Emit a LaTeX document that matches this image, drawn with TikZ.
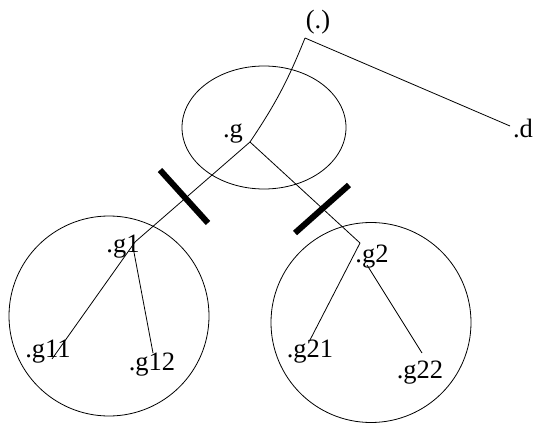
\documentclass[tikz,border=0pt]{standalone}
\usepackage{fontspec}
\setmainfont{Liberation Serif}
\begin{document}
\begin{tikzpicture}[x=1pt,y=-1pt,line width=0.8pt,
  lbl/.style={inner sep=0pt,anchor=base,font=\fontsize{26.5}{30}\selectfont},
  cut/.style={line width=6pt}]
\useasboundingbox (0,0) rectangle (539,431);

\draw (264,127.5) ellipse (82 and 61.5);
\draw (109,316) circle (100);
\draw (371,322.5) circle (100);

\coordinate (root) at (305,38);
\coordinate (d) at (510,126);
\coordinate (g) at (250,142);
\coordinate (g1) at (135,242);
\coordinate (g2) at (360,243);
\coordinate (g11) at (52,359);
\coordinate (g12) at (153,353);
\coordinate (g21) at (310,340);
\coordinate (g22) at (422,353);

\node[lbl] (troot) at (318,28) {(.)};
\node[lbl] (td) at (523,137) {.d};
\node[lbl] (tg) at (233,137) {.g};
\node[lbl] (tg1) at (123,252) {.g1};
\node[lbl] (tg2) at (372,262) {.g2};
\node[lbl] (tg11) at (48,357) {.g11};
\node[lbl] (tg12) at (152,370) {.g12};
\node[lbl] (tg21) at (310,357) {.g21};
\node[lbl] (tg22) at (420,378) {.g22};

\draw (root) -- (d);
\draw (root) to[bend left=6] (g);
\draw (g) -- (g1);
\draw (g) -- (g2);
\draw (g1) -- (g11);
\draw ([shift={(-2,5)}]g1) -- (g12);
\draw (g2) -- (g21);
\draw ([shift={(7,22)}]g2) -- (g22);

% cuts
\draw[cut] (160,170) -- (208,223);
\draw[cut] (295,233) -- (349,185);
\end{tikzpicture}
\end{document}
